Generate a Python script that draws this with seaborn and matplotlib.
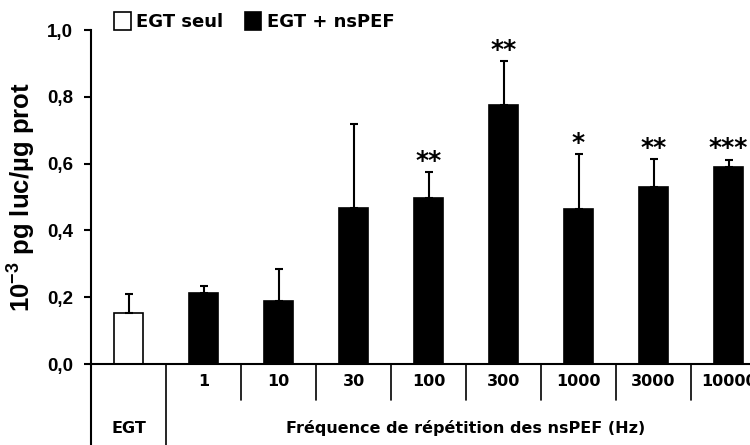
import numpy as np
import pandas as pd
import seaborn as sns
import matplotlib.pyplot as plt
from matplotlib.patches import Patch
from matplotlib.lines import Line2D

# Données
categories = ["EGT", "1", "10", "30", "100", "300", "1000", "3000", "10000"]
groupes = ["EGT seul"] + ["EGT + nsPEF"] * 8
moyennes = [0.153, 0.214, 0.19, 0.467, 0.497, 0.775, 0.465, 0.53, 0.59]
erreurs = [0.057, 0.02, 0.094, 0.253, 0.078, 0.131, 0.163, 0.084, 0.022]
etoiles = ["", "", "", "", "**", "**", "*", "**", "***"]
yticks = [0.0, 0.2, 0.4, 0.6, 0.8, 1.0]

df = pd.DataFrame({"categorie": categories, "groupe": groupes, "valeur": moyennes})

sns.set_style("white")
plt.rcParams["font.family"] = ["DejaVu Sans"]
plt.rcParams["text.color"] = "black"
plt.rcParams["axes.labelcolor"] = "black"
plt.rcParams["ytick.color"] = "black"
plt.rcParams["mathtext.fontset"] = "custom"
plt.rcParams["mathtext.rm"] = "Liberation Sans:bold"
plt.rcParams["mathtext.bf"] = "Liberation Sans:bold"

fig = plt.figure(figsize=(7.5, 4.45), dpi=100)
ax = fig.add_axes([91 / 750, 81 / 445, 675 / 750, 334 / 445])

sns.barplot(data=df, x="categorie", y="valeur", hue="groupe",
            palette={"EGT seul": "white", "EGT + nsPEF": "black"},
            edgecolor="black", linewidth=1.2, width=0.39, dodge=False,
            legend=False, ax=ax)

pos = np.arange(len(categories))
ax.errorbar(pos, moyennes, yerr=[np.zeros(len(erreurs)), erreurs], fmt="none",
            ecolor="black", elinewidth=1.5, capsize=3, capthick=1.5)

for x, m, e, s in zip(pos, moyennes, erreurs, etoiles):
    if s:
        ax.annotate(s, (x, m + e), xytext=(0, 8), textcoords="offset points",
                    ha="center", va="center", fontsize=18, fontweight="bold")

ax.set_xlim(-0.5, 8.5)
ax.set_ylim(0, 1.0)
ax.set_yticks(yticks)
ax.set_yticklabels([f"{t:.1f}".replace(".", ",") for t in yticks],
                   fontsize=13.5, fontweight="bold", family=["Liberation Sans"])
ax.tick_params(axis="y", direction="out", length=5, width=1.5, left=True, pad=8)
ax.set_xticks([])
ax.set_xlabel("")
ax.set_ylabel("10$^{-3}$ pg luc/µg prot", fontsize=18.5, fontweight="bold",
              family=["Liberation Sans"])
ax.yaxis.set_label_coords(-0.08, 0.5)

for side in ["top", "right"]:
    ax.spines[side].set_visible(False)
for side in ["left", "bottom"]:
    ax.spines[side].set_linewidth(1.5)
    ax.spines[side].set_color("black")

# tableau sous l'axe
bt = ax.get_xaxis_transform()
ax.add_line(Line2D([-0.5, -0.5], [0, -0.3], transform=bt, color="black",
                   lw=1.5, clip_on=False))
ax.add_line(Line2D([0.5, 0.5], [0, -0.3], transform=bt, color="black",
                   lw=1.2, clip_on=False))
for x in np.arange(1.5, 8.5, 1.0):
    ax.add_line(Line2D([x, x], [0, -0.108], transform=bt, color="black",
                       lw=1.2, clip_on=False))
for x, c in zip(pos[1:], categories[1:]):
    ax.text(x, -0.052, c, transform=bt, ha="center", va="center",
            fontsize=11.5, fontweight="bold")
ax.text(0, -0.192, "EGT", transform=bt, ha="center", va="center",
        fontsize=11.5, fontweight="bold")
ax.text(4.5, -0.192, "Fréquence de répétition des nsPEF (Hz)", transform=bt,
        ha="center", va="center", fontsize=11.5, fontweight="bold")

handles = [Patch(facecolor="white", edgecolor="black", lw=1.2, label="EGT seul"),
           Patch(facecolor="black", edgecolor="black", lw=1.2, label="EGT + nsPEF")]
fig.legend(handles=handles, loc="upper left", bbox_to_anchor=(100 / 750, 1.005),
           ncol=2, frameon=False, handlelength=0.9, handleheight=1.1,
           handletextpad=0.3, columnspacing=1.2, borderpad=0.3,
           prop={"weight": "bold", "size": 13})

fig.savefig("out.png", dpi=100)
